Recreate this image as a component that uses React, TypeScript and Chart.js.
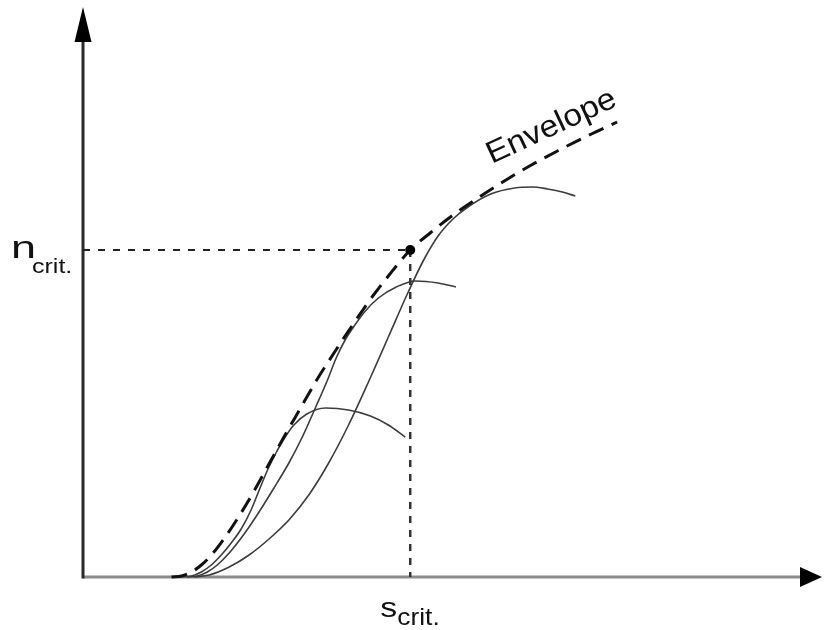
import React, { useEffect, useRef } from "react";
import { Chart, registerables } from "chart.js";

Chart.register(...registerables);

// Schematic units: s along the horizontal axis, n along the vertical axis
const envelopeS = [89, 99, 109, 119, 130, 143, 157, 172, 187, 202, 217, 235, 253, 269, 287, 307, 329, 349, 372, 397, 422, 449, 477, 507, 537];
const envelopeN = [0, 1, 5, 12, 23, 40, 61, 86, 113, 140, 166, 197, 225, 249, 275, 301, 327, 344, 362, 379, 395, 411, 426, 441, 455];

const curve1S = [97, 109, 119, 129, 139, 149, 159, 169, 178, 186, 194, 202, 212, 225, 244, 267, 289, 307, 324];
const curve1N = [0, 1, 5, 12, 22, 34, 48, 67, 89, 108, 124, 138, 152, 163, 169, 167, 161, 152, 140];

const curve2S = [105, 115, 125, 135, 147, 162, 177, 192, 207, 221, 234, 245, 255, 263, 272, 283, 297, 315, 334, 357, 375];
const curve2N = [0, 1, 5, 12, 24, 43, 65, 89, 114, 141, 170, 195, 220, 236, 250, 265, 279, 290, 296, 294, 290];

const curve3S = [112, 127, 147, 167, 187, 207, 227, 247, 267, 287, 307, 327, 342, 357, 372, 387, 410, 434, 452, 467, 482, 495];
const curve3N = [0, 2, 10, 22, 38, 57, 82, 114, 152, 195, 240, 285, 316, 341, 358, 370, 383, 389, 390, 388, 385, 381];

const sCrit = 329;
const nCrit = 327;
const sMax = 743;
const nMax = 570;

const envelopeLabel = "Envelope";
const envelopeLabelS = 411;
const envelopeLabelN = 413;

const zip = (xs: number[], ys: number[]) => xs.map((x, i) => ({ x, y: ys[i] }));

const FONT = '"Liberation Sans", Arial, Helvetica, sans-serif';

function drawText(
  ctx: CanvasRenderingContext2D,
  text: string,
  x: number,
  y: number,
  size: number,
  sx: number,
  angle = 0
) {
  ctx.save();
  ctx.translate(x, y);
  ctx.rotate(angle);
  ctx.scale(sx, 1);
  ctx.font = `${size}px ${FONT}`;
  ctx.fillStyle = "#111";
  ctx.textBaseline = "alphabetic";
  ctx.textAlign = "left";
  ctx.fillText(text, 0, 0);
  ctx.restore();
}

const schematicPlugin = {
  id: "schematic",
  beforeDatasetsDraw(chart: any) {
    const ctx: CanvasRenderingContext2D = chart.ctx;
    const xs = chart.scales.x;
    const ys = chart.scales.y;
    const x0 = xs.getPixelForValue(0);
    const y0 = ys.getPixelForValue(0);
    const xEnd = xs.getPixelForValue(sMax);
    const yEnd = ys.getPixelForValue(nMax);
    ctx.save();
    ctx.strokeStyle = "#8c8c8c";
    ctx.lineWidth = 3;
    ctx.beginPath();
    ctx.moveTo(x0, y0);
    ctx.lineTo(xEnd - 15, y0);
    ctx.stroke();
    ctx.strokeStyle = "#2a2a2a";
    ctx.beginPath();
    ctx.moveTo(x0, y0 + 1.5);
    ctx.lineTo(x0, yEnd + 20);
    ctx.stroke();
    ctx.restore();
  },
  afterDatasetsDraw(chart: any) {
    const ctx: CanvasRenderingContext2D = chart.ctx;
    const xs = chart.scales.x;
    const ys = chart.scales.y;
    const x0 = xs.getPixelForValue(0);
    const y0 = ys.getPixelForValue(0);
    const xEnd = xs.getPixelForValue(sMax);
    const yEnd = ys.getPixelForValue(nMax);
    ctx.save();
    ctx.fillStyle = "#000";
    ctx.beginPath();
    ctx.moveTo(x0, yEnd);
    ctx.lineTo(x0 + 8.5, yEnd + 35);
    ctx.lineTo(x0 - 8.5, yEnd + 35);
    ctx.closePath();
    ctx.fill();
    ctx.beginPath();
    ctx.moveTo(xEnd, y0);
    ctx.lineTo(xEnd - 22, y0 - 10);
    ctx.lineTo(xEnd - 22, y0 + 10);
    ctx.closePath();
    ctx.fill();
    ctx.restore();

    const px = xs.getPixelForValue(sCrit);
    const py = ys.getPixelForValue(nCrit);
    drawText(ctx, "n", 11, py + 8, 31, 1.45);
    drawText(ctx, "crit.", 32, py + 23, 20, 1.25);
    drawText(ctx, "s", px - 30, y0 + 40, 27, 1.25);
    drawText(ctx, "crit.", px - 13, y0 + 48, 24, 1.1);
    drawText(
      ctx,
      envelopeLabel,
      xs.getPixelForValue(envelopeLabelS),
      ys.getPixelForValue(envelopeLabelN),
      31,
      1.08,
      (-24.8 * Math.PI) / 180
    );
  },
};

export default function App() {
  const canvasRef = useRef<HTMLCanvasElement | null>(null);

  useEffect(() => {
    document.body.style.margin = "0";
    const canvas = canvasRef.current;
    if (!canvas) return;
    const thin = {
      showLine: true,
      pointRadius: 0,
      borderColor: "#3c3c3c",
      borderWidth: 1.6,
      cubicInterpolationMode: "monotone" as const,
      clip: false as any,
      fill: false,
    };
    const chart = new Chart(canvas, {
      type: "scatter",
      data: {
        datasets: [
          {
            label: "crit",
            data: [{ x: sCrit, y: nCrit }],
            pointRadius: 5,
            pointBackgroundColor: "#000",
            pointBorderWidth: 0,
            showLine: false,
            clip: false as any,
          },
          {
            label: "Envelope",
            data: zip(envelopeS, envelopeN),
            showLine: true,
            pointRadius: 0,
            borderColor: "#111",
            borderWidth: 3,
            borderDash: [16, 9],
            borderCapStyle: "butt",
            cubicInterpolationMode: "monotone",
            clip: false as any,
          },
          {
            label: "n ref",
            data: [
              { x: 0, y: nCrit },
              { x: sCrit, y: nCrit },
            ],
            showLine: true,
            pointRadius: 0,
            borderColor: "#222",
            borderWidth: 2,
            borderDash: [7, 8],
            clip: false as any,
          },
          {
            label: "s ref",
            data: [
              { x: sCrit, y: nCrit },
              { x: sCrit, y: 0 },
            ],
            showLine: true,
            pointRadius: 0,
            borderColor: "#333",
            borderWidth: 2.5,
            borderDash: [7, 7],
            clip: false as any,
          },
          { label: "c1", data: zip(curve1S, curve1N), ...thin },
          { label: "c2", data: zip(curve2S, curve2N), ...thin },
          { label: "c3", data: zip(curve3S, curve3N), ...thin },
        ] as any,
      },
      options: {
        animation: false,
        responsive: false,
        devicePixelRatio: 1,
        layout: { padding: { left: 83, right: 1, top: 7, bottom: 53 } },
        scales: {
          x: { type: "linear", min: 0, max: sMax, display: false },
          y: { type: "linear", min: 0, max: nMax, display: false },
        },
        plugins: {
          legend: { display: false },
          tooltip: { enabled: false },
        },
      },
      plugins: [schematicPlugin],
    });
    return () => chart.destroy();
  }, []);

  return (
    <div style={{ width: 827, height: 630, background: "#fff" }}>
      <canvas ref={canvasRef} width={827} height={630} />
    </div>
  );
}
